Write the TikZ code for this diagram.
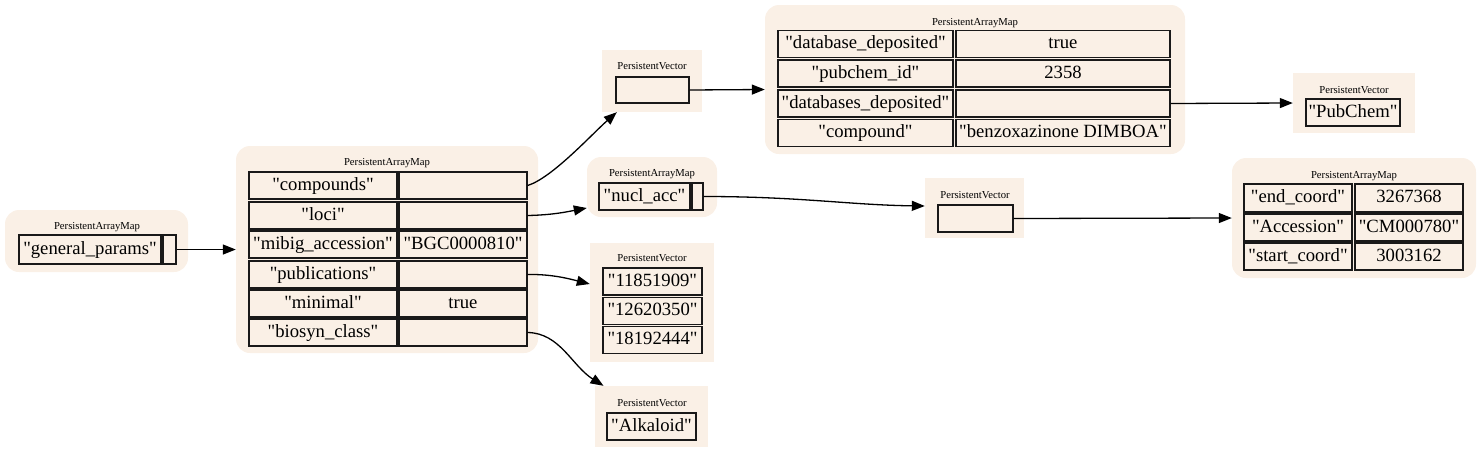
\documentclass[tikz,border=0pt]{standalone}
\usepackage{fontspec}
\setmainfont{Liberation Serif}[Ligatures=TeXOff]
\usetikzlibrary{arrows.meta}
\definecolor{linen}{HTML}{FAF0E6}
\tikzset{
  bgmap/.style={fill=linen, draw=none, rounded corners=14pt, inner sep=0pt},
  bgvec/.style={fill=linen, draw=none, inner sep=0pt},
  ttl/.style={inner sep=0pt, font=\fontsize{10.67}{12}\selectfont},
  cell/.style={draw=black!90, line width=1.3pt, fill=linen, inner sep=0pt, text height=12.7pt, text depth=3.6pt, font=\fontsize{18.67}{20}\selectfont},
  edge/.style={draw=black, line width=1.3pt, -{Triangle[length=13pt,width=10pt]}}
}
\begin{document}
\begin{tikzpicture}[x=1pt,y=-1pt]
\useasboundingbox (0,0) rectangle (1481,453);
% ---------- backgrounds ----------
\node[bgmap, minimum width=183pt, minimum height=62pt] (bgA) at (96.5,241) {};
\node[bgmap, minimum width=302pt, minimum height=207pt] (bgB) at (387,249.5) {};
\node[bgvec, minimum width=100pt, minimum height=62pt] (bgC) at (652,81) {};
\node[bgmap, minimum width=420pt, minimum height=149pt] (bgD) at (975,79.5) {};
\node[bgmap, minimum width=130pt, minimum height=60pt] (bgE) at (652,187) {};
\node[bgvec, minimum width=124pt, minimum height=119pt] (bgF) at (652,302.5) {};
\node[bgvec, minimum width=113pt, minimum height=61pt] (bgG) at (651.5,416.5) {};
\node[bgvec, minimum width=99pt, minimum height=60pt] (bgH) at (974.5,208) {};
\node[bgmap, minimum width=244pt, minimum height=120pt] (bgI) at (1354,218) {};
\node[bgvec, minimum width=122pt, minimum height=60pt] (bgJ) at (1354,103) {};
% ---------- titles ----------
\node[ttl] (tA) at (97,227) {PersistentArrayMap};
\node[ttl] (tB) at (387,163) {PersistentArrayMap};
\node[ttl] (tC) at (652,66) {PersistentVector};
\node[ttl] (tD) at (975,23) {PersistentArrayMap};
\node[ttl] (tE) at (652,174) {PersistentArrayMap};
\node[ttl] (tF) at (652,258) {PersistentVector};
\node[ttl] (tG) at (652,403) {PersistentVector};
\node[ttl] (tH) at (975,195) {PersistentVector};
\node[ttl] (tI) at (1354,176) {PersistentArrayMap};
\node[ttl] (tJ) at (1354,90) {PersistentVector};
% ---------- map A ----------
\node[cell, minimum width=142pt, minimum height=29pt] (A1k) at (90,249.5) {"general\_params"};
\node[cell, minimum width=13pt, minimum height=29pt] (A1v) at (169.5,249.5) {};
% ---------- map B ----------
\foreach \n/\y/\k/\v in {1/185.5/"compounds"/{},2/215.5/"loci"/{},3/244.5/"mibig\_accession"/"BGC0000810",4/274.5/"publications"/{},5/303.5/"minimal"/true,6/332.5/"biosyn\_class"/{}}{
  \node[cell, minimum width=148pt, minimum height=27pt] (B\n k) at (323,\y) {\k};
  \node[cell, minimum width=128pt, minimum height=27pt] (B\n v) at (463,\y) {\v};
}
% ---------- vector C ----------
\node[cell, minimum width=73pt, minimum height=26pt] (C1) at (652.5,90) {};
% ---------- map D ----------
\node[cell, minimum width=175pt, minimum height=27pt] (D1k) at (865.5,44) {"database\_deposited"};
\node[cell, minimum width=214pt, minimum height=27pt] (D1v) at (1063,44) {true};
\node[cell, minimum width=175pt, minimum height=27pt] (D2k) at (865.5,73.5) {"pubchem\_id"};
\node[cell, minimum width=214pt, minimum height=27pt] (D2v) at (1063,73.5) {2358};
\node[cell, minimum width=175pt, minimum height=27pt] (D3k) at (865.5,103.5) {"databases\_deposited"};
\node[cell, minimum width=214pt, minimum height=27pt] (D3v) at (1063,103.5) {};
\node[cell, minimum width=175pt, minimum height=27pt] (D4k) at (865.5,133) {"compound"};
\node[cell, minimum width=214pt, minimum height=27pt] (D4v) at (1063,133) {"benzoxazinone DIMBOA"};
% ---------- map E ----------
\node[cell, minimum width=91pt, minimum height=27pt] (E1k) at (644.5,196.5) {"nucl\_acc"};
\node[cell, minimum width=11pt, minimum height=27pt] (E1v) at (697.5,196.5) {};
% ---------- vector F ----------
\node[cell, minimum width=99pt, minimum height=27pt] (F1) at (652.5,281.5) {"11851909"};
\node[cell, minimum width=99pt, minimum height=27pt] (F2) at (652.5,311) {"12620350"};
\node[cell, minimum width=99pt, minimum height=27pt] (F3) at (652.5,340) {"18192444"};
% ---------- vector G ----------
\node[cell, minimum width=89pt, minimum height=27pt] (G1) at (651.5,426.5) {"Alkaloid"};
% ---------- vector H ----------
\node[cell, minimum width=75pt, minimum height=27pt] (H1) at (975.5,218.5) {};
% ---------- map I ----------
\node[cell, minimum width=108pt, minimum height=28pt] (I1k) at (1298,198) {"end\_coord"};
\node[cell, minimum width=108pt, minimum height=28pt] (I1v) at (1409,198) {3267368};
\node[cell, minimum width=108pt, minimum height=27pt] (I2k) at (1298,227.5) {"Accession"};
\node[cell, minimum width=108pt, minimum height=27pt] (I2v) at (1409,227.5) {"CM000780"};
\node[cell, minimum width=108pt, minimum height=27pt] (I3k) at (1298,256.5) {"start\_coord"};
\node[cell, minimum width=108pt, minimum height=27pt] (I3v) at (1409,256.5) {3003162};
% ---------- vector J ----------
\node[cell, minimum width=94pt, minimum height=27pt] (J1) at (1353,112.5) {"PubChem"};
% ---------- edges ----------
\draw[edge] (A1v.east) -- (bgB.west);
\draw[edge] (B1v.east) .. controls (552,178) and (592,134) .. ([xshift=15pt]bgC.south west);
\draw[edge] (B2v.east) .. controls (552,215) and (566,212) .. ([yshift=-21pt]bgE.west);
\draw[edge] (B4v.east) .. controls (552,274) and (570,279) .. ([yshift=18.5pt]bgF.west);
\draw[edge] (B6v.east) .. controls (560,333) and (572,366) .. ([xshift=-48pt]bgG.north);
\draw[edge] (C1.east) -- ([yshift=-10pt]bgD.west);
\draw[edge] (D3v.east) -- (bgJ.west);
\draw[edge] (E1v.east) .. controls (800,196.5) and (850,205) .. ([yshift=2pt]bgH.west);
\draw[edge] (H1.east) -- (bgI.west);
\end{tikzpicture}
\end{document}
